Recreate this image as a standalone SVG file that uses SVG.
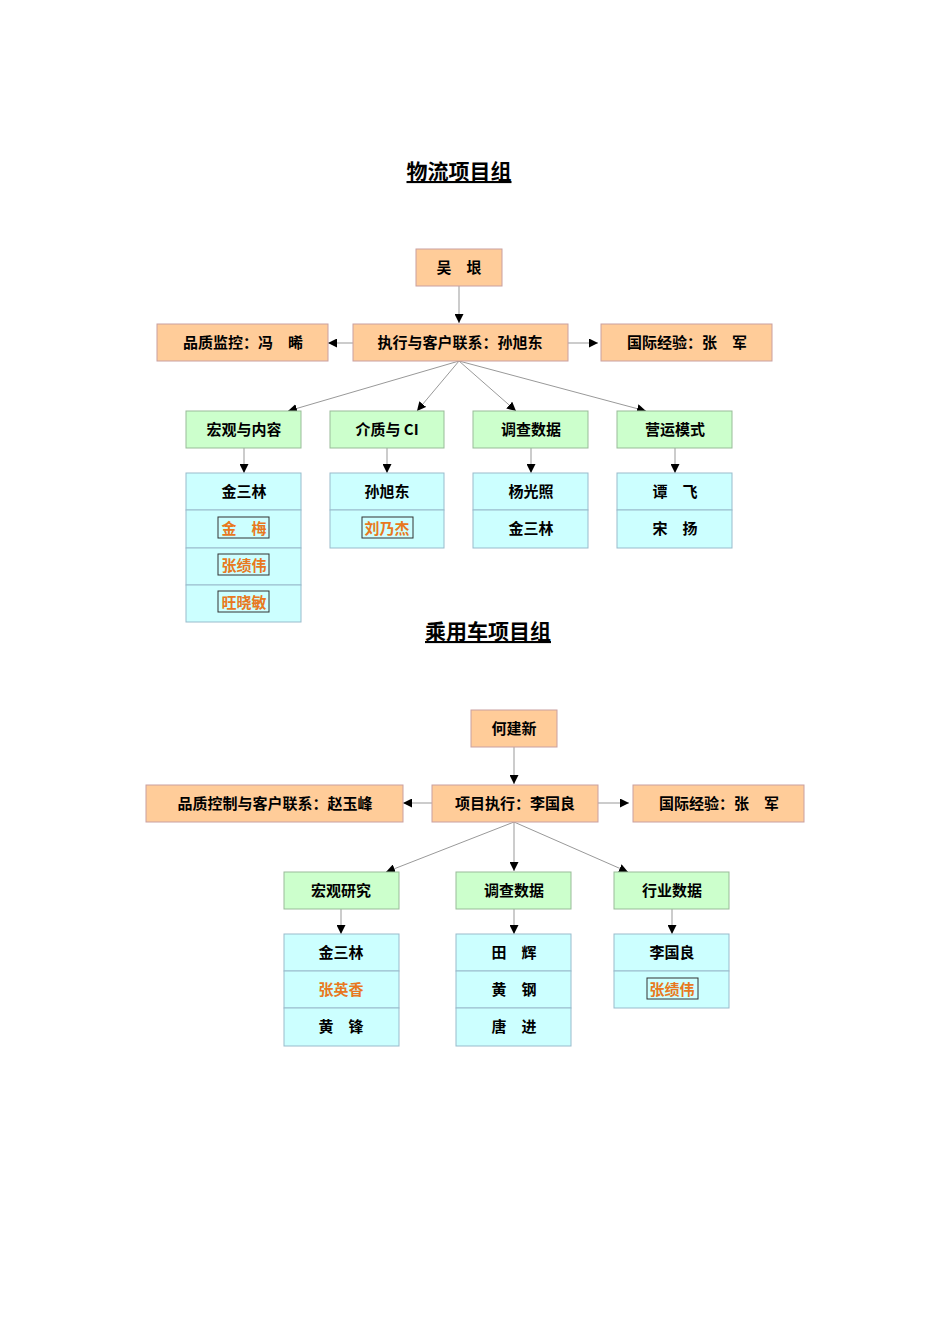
<svg xmlns="http://www.w3.org/2000/svg" width="950" height="1344" viewBox="0 0 950 1344">
<defs>
<marker id="ar" viewBox="0 0 10 10" refX="10" refY="5" markerWidth="9" markerHeight="9" markerUnits="userSpaceOnUse" orient="auto"><path d="M0,0L10,5L0,10z" fill="#000"/></marker>
<style>
.o{fill:#FFCC99;stroke:#C9A0A0;stroke-width:1}
.g{fill:#CCFFCC;stroke:#99BB99;stroke-width:1}
.c{fill:#CCFFFF;stroke:#99BBCC;stroke-width:1}
text{font-family:"Noto Sans CJK SC","Liberation Serif",sans-serif;font-weight:bold;font-size:15px;text-anchor:middle;fill:#000}
.t{font-size:21px;text-decoration:underline}
.r{fill:#E87820}
.b{fill:none;stroke:#333;stroke-width:1}
.l{stroke:#999;stroke-width:1;fill:none;marker-end:url(#ar)}
</style>
</defs>
<text class="t" x="459" y="179">物流项目组</text>
<text class="t" x="488" y="639">乘用车项目组</text>
<g id="connectors">
<path class="l" d="M459,286V323"/>
<path class="l" d="M353,343H328"/>
<path class="l" d="M568,343H598"/>
<path class="l" d="M459,361L288,411"/>
<path class="l" d="M459,361L417,411"/>
<path class="l" d="M459,361L516,411"/>
<path class="l" d="M459,361L646,411"/>
<path class="l" d="M244,448V473"/>
<path class="l" d="M387,448V473"/>
<path class="l" d="M531,448V473"/>
<path class="l" d="M675,448V473"/>
<path class="l" d="M514,747V784"/>
<path class="l" d="M432,803H403"/>
<path class="l" d="M598,803H629"/>
<path class="l" d="M514,822L386,872"/>
<path class="l" d="M514,822V871"/>
<path class="l" d="M514,822L628,872"/>
<path class="l" d="M341,909V934"/>
<path class="l" d="M514,909V934"/>
<path class="l" d="M672,909V934"/>
</g>
<g id="n1"><rect class="o" x="416" y="249" width="86" height="37"/><text x="459" y="273">吴　垠</text></g>
<g id="n2"><rect class="o" x="157" y="324" width="171" height="37"/><text x="243" y="348">品质监控：冯　晞</text></g>
<g id="n3"><rect class="o" x="353" y="324" width="215" height="37"/><text x="460" y="348">执行与客户联系：孙旭东</text></g>
<g id="n4"><rect class="o" x="601" y="324" width="171" height="37"/><text x="687" y="348">国际经验：张　军</text></g>
<g id="n5"><rect class="g" x="186" y="411" width="115" height="37"/><text x="244" y="435">宏观与内容</text></g>
<g id="n6"><rect class="g" x="330" y="411" width="114" height="37"/><text x="387" y="435">介质与 CI</text></g>
<g id="n7"><rect class="g" x="473" y="411" width="115" height="37"/><text x="531" y="435">调查数据</text></g>
<g id="n8"><rect class="g" x="617" y="411" width="115" height="37"/><text x="675" y="435">营运模式</text></g>
<g id="n9">
<rect class="c" x="186" y="473" width="115" height="37"/><text x="244" y="497">金三林</text>
<rect class="c" x="186" y="510" width="115" height="38"/><rect class="b" x="218" y="517" width="51" height="21"/><text class="r" x="244" y="534">金　梅</text>
<rect class="c" x="186" y="548" width="115" height="37"/><rect class="b" x="218" y="554" width="51" height="21"/><text class="r" x="244" y="571">张绩伟</text>
<rect class="c" x="186" y="585" width="115" height="37"/><rect class="b" x="218" y="591" width="51" height="21"/><text class="r" x="244" y="608">旺晓敏</text>
</g>
<g id="n10">
<rect class="c" x="330" y="473" width="114" height="37"/><text x="387" y="497">孙旭东</text>
<rect class="c" x="330" y="510" width="114" height="38"/><rect class="b" x="362" y="517" width="51" height="21"/><text class="r" x="387" y="534">刘乃杰</text>
</g>
<g id="n11">
<rect class="c" x="473" y="473" width="115" height="37"/><text x="531" y="497">杨光照</text>
<rect class="c" x="473" y="510" width="115" height="38"/><text x="531" y="534">金三林</text>
</g>
<g id="n12">
<rect class="c" x="617" y="473" width="115" height="37"/><text x="675" y="497">谭　飞</text>
<rect class="c" x="617" y="510" width="115" height="38"/><text x="675" y="534">宋　扬</text>
</g>
<g id="m1"><rect class="o" x="471" y="710" width="86" height="37"/><text x="514" y="734">何建新</text></g>
<g id="m2"><rect class="o" x="146" y="785" width="257" height="37"/><text x="275" y="809">品质控制与客户联系：赵玉峰</text></g>
<g id="m3"><rect class="o" x="432" y="785" width="166" height="37"/><text x="515" y="809">项目执行：李国良</text></g>
<g id="m4"><rect class="o" x="633" y="785" width="171" height="37"/><text x="719" y="809">国际经验：张　军</text></g>
<g id="m5"><rect class="g" x="284" y="872" width="115" height="37"/><text x="341" y="896">宏观研究</text></g>
<g id="m6"><rect class="g" x="456" y="872" width="115" height="37"/><text x="514" y="896">调查数据</text></g>
<g id="m7"><rect class="g" x="614" y="872" width="115" height="37"/><text x="672" y="896">行业数据</text></g>
<g id="m8">
<rect class="c" x="284" y="934" width="115" height="37"/><text x="341" y="958">金三林</text>
<rect class="c" x="284" y="971" width="115" height="37"/><text class="r" x="341" y="995">张英香</text>
<rect class="c" x="284" y="1008" width="115" height="38"/><text x="341" y="1032">黄　锋</text>
</g>
<g id="m9">
<rect class="c" x="456" y="934" width="115" height="37"/><text x="514" y="958">田　辉</text>
<rect class="c" x="456" y="971" width="115" height="37"/><text x="514" y="995">黄　钢</text>
<rect class="c" x="456" y="1008" width="115" height="38"/><text x="514" y="1032">唐　进</text>
</g>
<g id="m10">
<rect class="c" x="614" y="934" width="115" height="37"/><text x="672" y="958">李国良</text>
<rect class="c" x="614" y="971" width="115" height="37"/><rect class="b" x="647" y="978" width="51" height="21"/><text class="r" x="672" y="995">张绩伟</text>
</g>
</svg>
